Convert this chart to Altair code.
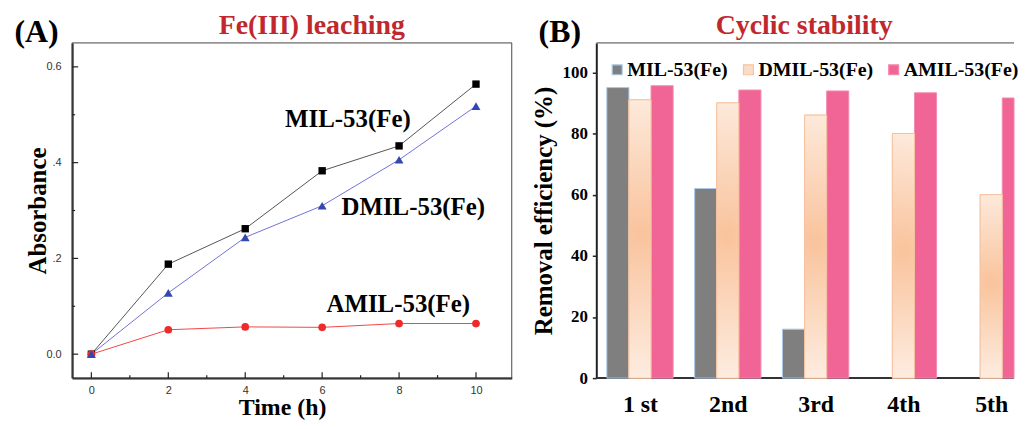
import altair as alt
import pandas as pd

# ---------------- data ----------------
times = [0, 2, 4, 6, 8, 10]
mil_abs = [0.0, 0.188, 0.262, 0.383, 0.435, 0.564]
dmil_abs = [0.0, 0.128, 0.244, 0.310, 0.406, 0.518]
amil_abs = [0.0, 0.051, 0.057, 0.056, 0.064, 0.064]

series = ["MIL-53(Fe)", "DMIL-53(Fe)", "AMIL-53(Fe)"]

cycles = ["1 st", "2nd", "3rd", "4th", "5th"]
mil_eff = [95.0, 62.0, 16.0, 0.0, 0.0]
dmil_eff = [91.0, 90.0, 86.0, 80.0, 60.0]
amil_eff = [95.6, 94.2, 93.9, 93.3, 91.6]

x_major = [0, 2, 4, 6, 8, 10]
x_minor = [1, 3, 5, 7, 9]
y_major = [0.0, 0.2, 0.4, 0.6]
y_minor = [0.1, 0.3, 0.5]
y_ticks_b = [0, 20, 40, 60, 80, 100]

# annotation anchor points (data units) for panel A labels
ann_x = [6.67, 8.37, 7.98]
ann_y = [0.492, 0.307, 0.104]

SERIF = "Liberation Serif"
SANS = "Liberation Sans"
RED_TITLE = "#c0282e"

# ---------------- panel A ----------------
WA, HA = 442, 337
xs_a = alt.Scale(domain=[-0.5, 10.93], nice=False, zero=False)
ys_a = alt.Scale(domain=[-0.05, 0.65], nice=False, zero=False)

x_axis_a = alt.Axis(values=x_major, format="d", ticks=False, tickSize=0, grid=False,
                    domainColor="#222", domainWidth=2, labelFont=SANS, labelFontSize=11,
                    labelColor="#333", labelPadding=15, labelBaseline="alphabetic",
                    labelFlush=False, title="Time (h)", titleFont=SERIF, titleFontSize=24,
                    titleFontWeight="bold", titleColor="black", titleX=211, titleY=37,
                    titleBaseline="alphabetic", titleAlign="center")
y_axis_a = alt.Axis(values=y_major,
                    labelExpr="datum.value == 0 ? '0.0' : (datum.value > 0.59 ? '0.6' : '.' + format(datum.value * 10, 'd'))",
                    ticks=False, tickSize=0, grid=False, domainColor="#222", domainWidth=2,
                    labelFont=SANS, labelFontSize=11, labelColor="#333", labelPadding=11,
                    labelFlush=False, title="Absorbance", titleFont=SERIF, titleFontSize=25,
                    titleFontWeight="bold", titleColor="black", titleX=-27, titleY=HA / 2,
                    titleBaseline="alphabetic", titleAlign="center", titleAngle=270)

X_A = alt.X("t:Q", scale=xs_a, axis=x_axis_a)
Y_A = alt.Y("v:Q", scale=ys_a, axis=y_axis_a)

dummy = pd.DataFrame({"a": [0]})

frame_a = alt.Chart(dummy).mark_rect(fillOpacity=0, stroke="#444", strokeWidth=1).encode(
    x=alt.value(0), x2=alt.value(WA), y=alt.value(0), y2=alt.value(HA))

xt_major = alt.Chart(pd.DataFrame({"t": x_major})).mark_rule(color="#222", strokeWidth=1.2).encode(
    x=X_A, y=alt.value(HA), y2=alt.value(HA - 6))
xt_minor = alt.Chart(pd.DataFrame({"t": x_minor})).mark_rule(color="#222", strokeWidth=1.2).encode(
    x=X_A, y=alt.value(HA), y2=alt.value(HA - 3))
yt_major = alt.Chart(pd.DataFrame({"v": y_major})).mark_rule(color="#222", strokeWidth=1.2).encode(
    y=Y_A, x=alt.value(0), x2=alt.value(6))
yt_minor = alt.Chart(pd.DataFrame({"v": y_minor})).mark_rule(color="#222", strokeWidth=1.2).encode(
    y=Y_A, x=alt.value(0), x2=alt.value(3))

df_mil = pd.DataFrame({"t": times, "v": mil_abs})
df_dmil = pd.DataFrame({"t": times, "v": dmil_abs})
df_amil = pd.DataFrame({"t": times, "v": amil_abs})

line_mil = alt.Chart(df_mil).mark_line(color="#555555", strokeWidth=1).encode(x=X_A, y=Y_A)
line_dmil = alt.Chart(df_dmil).mark_line(color="#6f73d6", strokeWidth=1).encode(x=X_A, y=Y_A)
line_amil = alt.Chart(df_amil).mark_line(color="#f04848", strokeWidth=1).encode(x=X_A, y=Y_A)

pt_mil = alt.Chart(df_mil).mark_point(filled=True, shape="square", size=55, color="black", opacity=1).encode(x=X_A, y=Y_A)
pt_amil = alt.Chart(df_amil).mark_point(filled=True, shape="circle", size=60, color="#ee2b2b", opacity=1).encode(x=X_A, y=Y_A)
pt_dmil = alt.Chart(df_dmil).mark_point(filled=True, shape="triangle-up", size=80, color="#3347b0", opacity=1).encode(x=X_A, y=Y_A)

ann = alt.Chart(pd.DataFrame({"label": series, "t": ann_x, "v": ann_y})).mark_text(
    font=SERIF, fontSize=25, fontWeight="bold", color="black", align="center", baseline="middle"
).encode(x=X_A, y=Y_A, text="label:N")

title_a = alt.Chart(dummy).mark_text(font=SERIF, fontSize=28, fontWeight="bold", color=RED_TITLE,
                                      align="center", baseline="alphabetic").encode(
    x=alt.value(241), y=alt.value(-8.5), text=alt.value("Fe(III) leaching"))
tag_a = alt.Chart(dummy).mark_text(font=SERIF, fontSize=32, fontWeight="bold", color="black",
                                    align="left", baseline="alphabetic").encode(
    x=alt.value(-58), y=alt.value(-1), text=alt.value("(A)"))

panel_a = alt.layer(frame_a, xt_major, xt_minor, yt_major, yt_minor,
                    line_mil, line_dmil, line_amil, pt_mil, pt_amil, pt_dmil,
                    ann, title_a, tag_a).properties(width=WA, height=HA)

# ---------------- panel B ----------------
WB, HB = 420, 337
STEP_PX = 88.29          # width of one cycle group slot
OUTER = 0.12             # left outer padding, in slots
BAR_W = 0.755 / 3        # one bar, in slots

rows = []
for i, (c, a, b, d) in enumerate(zip(cycles, mil_eff, dmil_eff, amil_eff)):
    for j, val in enumerate([a, b, d]):
        rows.append({"cycle": c, "idx": i, "sidx": j, "series": series[j], "eff": val})
df_b = pd.DataFrame(rows)

fills = ["#7f7f7f", "#fbdcc7", "#f06595"]
strokes = ["#a9c8e8", "#f6c3a0", "#f58ab0"]

centers = [OUTER + 1.5 * BAR_W + i for i in range(len(cycles))]
label_expr = "[" + ",".join("'%s'" % c for c in cycles) + "][round(datum.value - %f)]" % (OUTER + 1.5 * BAR_W)

xs_b = alt.Scale(domain=[0, WB / STEP_PX], nice=False, zero=False, clamp=True)
x_axis_b = alt.Axis(values=centers, labelExpr=label_expr, domain=False, ticks=False, tickSize=0,
                    grid=False, labelFont=SERIF, labelFontSize=24, labelFontWeight="bold",
                    labelColor="black", labelPadding=34, labelBaseline="alphabetic",
                    labelAngle=0, labelFlush=False, labelOverlap=False, title=None)
ys_b = alt.Scale(domain=[0, 109.6], nice=False, zero=True)
y_axis_b = alt.Axis(values=y_ticks_b, grid=False, domainColor="#222", domainWidth=2,
                    tickColor="#222", tickSize=4, tickWidth=1.5, labelFont=SERIF,
                    labelFontSize=17, labelFontWeight="bold", labelColor="black",
                    labelPadding=5, labelFlush=False, title="Removal efficiency (%)",
                    titleFont=SERIF, titleFontSize=25, titleFontWeight="bold",
                    titleColor="black", titleX=-45, titleY=HB / 2,
                    titleBaseline="alphabetic", titleAlign="center", titleAngle=270)

X_B = alt.X("x0:Q", scale=xs_b, axis=x_axis_b)
X2_B = alt.X2("x1:Q")
Y_B = alt.Y("eff:Q", scale=ys_b, axis=y_axis_b)
Y2_B = alt.Y2(datum=0)

# legend offsets are relative to the left panel's plot origin
leg = alt.Legend(orient="none", legendX=WA + 85 + 11, legendY=17, direction="horizontal", title=None,
                 symbolType="square", symbolSize=100, symbolStrokeWidth=1.2, symbolOpacity=1,
                 labelFont=SERIF, labelFontSize=20, labelFontWeight="bold", labelColor="black",
                 labelOffset=0, columnPadding=10, padding=0)

bottom_b = alt.Chart(dummy).mark_rule(color="#333", strokeWidth=2).encode(
    x=alt.value(0), x2=alt.value(WB), y=alt.value(HB))
top_b = alt.Chart(dummy).mark_rule(color="#444", strokeWidth=1).encode(
    x=alt.value(0), x2=alt.value(WB), y=alt.value(0))

calc = dict(x0="%f + datum.idx + datum.sidx * %f" % (OUTER, BAR_W),
            x1="%f + datum.idx + (datum.sidx + 1) * %f" % (OUTER, BAR_W))

bars = alt.Chart(df_b).transform_filter("datum.eff > 0").transform_calculate(**calc).mark_rect(
    strokeWidth=1, opacity=1).encode(
    x=X_B, x2=X2_B, y=Y_B, y2=Y2_B,
    color=alt.Color("series:N", sort=series, scale=alt.Scale(domain=series, range=fills), legend=leg),
    stroke=alt.Stroke("series:N", sort=series, scale=alt.Scale(domain=series, range=strokes), legend=leg),
)

grad = {
    "gradient": "radial",
    "x1": 0.5, "y1": 0.48, "r1": 0,
    "x2": 0.5, "y2": 0.48, "r2": 0.62,
    "stops": [
        {"offset": 0, "color": "#f9c39c"},
        {"offset": 1, "color": "#fef4ed"},
    ],
}
bars_grad = alt.Chart(df_b).transform_filter("datum.series == 'DMIL-53(Fe)'").transform_calculate(**calc).mark_rect(
    fill=grad, stroke="#f6c3a0", strokeWidth=1).encode(x=X_B, x2=X2_B, y=Y_B, y2=Y2_B)

title_b = alt.Chart(dummy).mark_text(font=SERIF, fontSize=28, fontWeight="bold", color=RED_TITLE,
                                      align="center", baseline="alphabetic").encode(
    x=alt.value(209), y=alt.value(-8.5), text=alt.value("Cyclic stability"))
tag_b = alt.Chart(dummy).mark_text(font=SERIF, fontSize=32, fontWeight="bold", color="black",
                                    align="left", baseline="alphabetic").encode(
    x=alt.value(-58), y=alt.value(-1), text=alt.value("(B)"))

panel_b = alt.layer(bottom_b, top_b, bars, bars_grad, title_b, tag_b).properties(width=WB, height=HB)

chart = alt.hconcat(panel_a, panel_b, spacing=85, bounds="flush").configure_view(
    stroke=None).properties(padding={"left": 6.5, "top": 3, "right": 0, "bottom": 0})

chart.save("out.html", embed_options={"renderer": "svg", "actions": False})
